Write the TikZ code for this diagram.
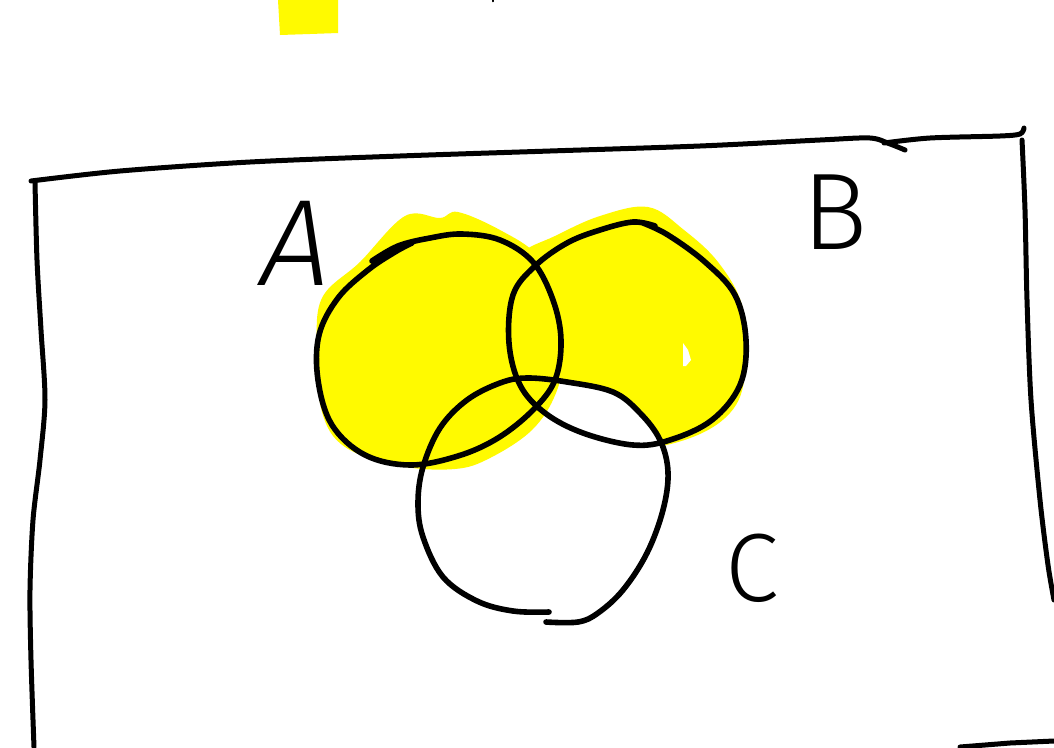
\documentclass[tikz,border=0pt]{standalone}
\usepackage{fontspec}
\newfontfamily\lblfont{Fira Sans Light}
\newfontfamily\lblslant[FakeSlant=0.18]{Fira Sans Light}
\begin{document}
\begin{tikzpicture}[x=1pt,y=-1pt,
  ink/.style={line width=5.6pt,line cap=round,line join=round,black},
  frame/.style={line width=5pt,line cap=round,line join=round,black},
  hl/.style={fill={rgb,255:red,255;green,250;blue,0},draw=none},
  lbl/.style={inner sep=0pt,text=black}]
\useasboundingbox (0,0) rectangle (1054,747);
\fill[white] (0,0) rectangle (1054,747);
% top yellow patch
\fill[hl] (278,0) -- (338,0) -- (338,33) -- (310,34) -- (280,35) -- cycle;
\draw[line width=1.5pt,line cap=round] (493,0) -- (493,1.5);
% yellow of B
\fill[hl] plot[smooth cycle,tension=0.6] coordinates {(520,255) (555,236) (600,216) (648,207) (684,230) (718,262) (742,305) (746,360) (736,405) (700,434) (640,449) (580,441) (535,412) (508,350) (510,292)};
% C interior white
\fill[white] plot[smooth cycle,tension=0.6] coordinates {(545,622) (513,612) (477,602) (443,577) (423,537) (418,503) (423,467) (440,427) (467,400) (500,383) (527,378) (567,382) (613,392) (640,413) (660,440) (668,470) (663,510) (647,553) (623,590) (597,613) (580,622)};
% yellow of A
\fill[hl] plot[smooth cycle,tension=0.6] coordinates {(322,298) (360,262) (405,216) (440,218) (458,212) (500,230) (538,256) (560,300) (566,345) (556,393) (532,430) (490,458) (455,469) (400,466) (345,447) (322,412) (317,350)};
\fill[white] (683,343) -- (688,350) -- (691,360) -- (686,366) -- (683,366) -- cycle;
% frame
\draw[frame] plot[smooth,tension=0.5] coordinates {(31,181) (120,171) (250,162) (400,156) (550,151) (700,146) (820,140) (870,138) (890,144) (905,150)};
\draw[frame] plot[smooth,tension=0.5] coordinates {(884,143) (930,138) (1000,136) (1020,134) (1024,128)};
\draw[frame] plot[smooth,tension=0.5] coordinates {(35,182) (37,260) (41,330) (45,400) (40,460) (33,520) (30,590) (31,660) (34,747)};
\draw[frame] plot[smooth,tension=0.5] coordinates {(1022,140) (1025,210) (1027,300) (1031,400) (1040,500) (1048,565) (1054,600)};
\draw[frame] (960,747) -- (1010,743) -- (1054,741);
% circle A
\draw[ink] plot[smooth,tension=0.6] coordinates {(372,261) (398,246) (430,238) (462,234) (500,240) (533,262) (553,300) (561,340) (555,380) (533,410) (498,438) (458,456) (410,465) (365,455) (332,425) (318,380) (319,335) (338,298) (368,270) (395,252) (412,243)};
% circle B
\draw[ink] plot[smooth,tension=0.6] coordinates {(643,223) (668,235) (705,262) (735,295) (746,340) (740,385) (712,420) (670,440) (633,445) (583,433) (545,413) (520,385) (509,343) (513,295) (535,266) (567,243) (600,230) (633,222) (655,226)};
% circle C
\draw[ink] plot[smooth,tension=0.6] coordinates {(549,612) (513,611) (477,601) (443,577) (423,537) (418,503) (423,467) (440,428) (467,400) (500,383) (527,378) (567,382) (613,392) (640,413) (660,440) (668,472) (663,510) (647,553) (623,590) (598,613) (578,622) (546,622)};
% labels
\node[lbl,font=\lblslant\fontsize{123}{123}\selectfont] (labA) at (290,243) {A};
\node[lbl,font=\lblfont\fontsize{109}{109}\selectfont] (labB) at (835,212) {B};
\node[lbl,font=\lblfont\fontsize{97}{97}\selectfont] (labC) at (752,568) {C};
\end{tikzpicture}
\end{document}
